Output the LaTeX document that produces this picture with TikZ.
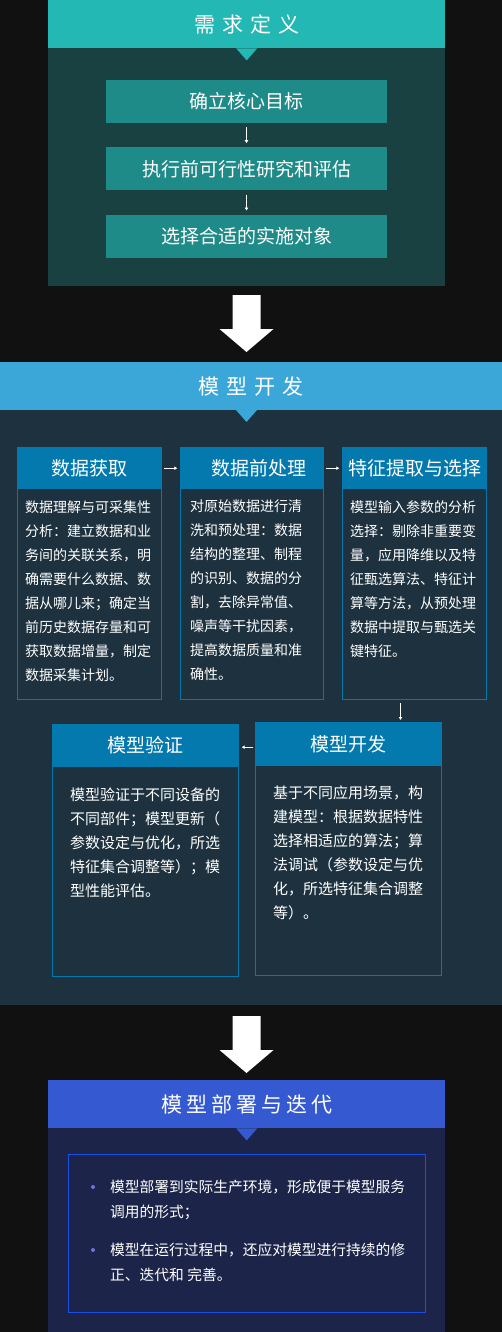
\documentclass[tikz,border=0pt]{standalone}
\usepackage{fontspec}
\usepackage{xcolor}
\usepackage{tikz}
\usetikzlibrary{positioning, calc, arrows.meta}
\newfontfamily\cjk{Noto Sans CJK SC}
\definecolor{PageBlack}{RGB}{17,17,17}
\definecolor{ReqTeal}{RGB}{36,184,181}
\definecolor{ReqDark}{RGB}{26,65,66}
\definecolor{ReqStep}{RGB}{31,139,136}
\definecolor{DevBlue}{RGB}{59,167,217}
\definecolor{DevDark}{RGB}{29,49,62}
\definecolor{CardBlue}{RGB}{4,121,173}
\definecolor{DepBlue}{RGB}{52,89,209}
\definecolor{DepDark}{RGB}{28,37,73}
\definecolor{DepLine}{RGB}{28,79,230}
\definecolor{DotPurple}{RGB}{112,112,224}
\tikzset{
    panelhead/.style={
        fill=#1, text=white, font=\cjk\fontsize{21}{21}\selectfont,
        minimum height=48pt, inner sep=0pt, anchor=north west
    },
    stepbox/.style={
        fill=ReqStep, text=white, font=\cjk\fontsize{19}{19}\selectfont,
        minimum width=281pt, minimum height=43pt, inner sep=0pt
    },
    cardframe/.style={
        draw=CardBlue, line width=1pt, minimum height=252pt, inner sep=0pt, anchor=north west
    },
    cardhead/.style={
        fill=CardBlue, text=white, font=\cjk\fontsize{19}{19}\selectfont,
        minimum height=42pt, inner sep=0pt, anchor=north
    },
    cardtext/.style={
        text=white, align=left, inner sep=0pt, anchor=north west
    },
    bulletdot/.style={
        circle, fill=DotPurple, minimum size=4pt, inner sep=0pt
    },
    smallarrow/.style={
        -{Latex[length=3pt, width=4pt]}, white, line width=0.8pt
    }
}
\begin{document}
\begin{tikzpicture}[x=1pt, y=-1pt]
\fill[PageBlack] (0,0) rectangle (502,1332);
\useasboundingbox (0,0) rectangle (502,1332);

\fill[ReqDark] (48,0) rectangle (445,286);
\node[panelhead=ReqTeal, minimum width=397pt] (req) at (48,0) {需\hspace{7pt}求\hspace{7pt}定\hspace{7pt}义};
\fill[ReqTeal] ([xshift=-10.5pt]req.south) -- ([xshift=10.5pt]req.south) -- ([yshift=-12pt]req.south) -- cycle;
\node[stepbox] (goal) at (246.5,101.5) {确立核心目标};
\node[stepbox, below=24pt of goal] (study) {执行前可行性研究和评估};
\node[stepbox, below=24pt of study] (target) {选择合适的实施对象};
\draw[smallarrow, shorten <=4pt, shorten >=4pt] (goal) -- (study);
\draw[smallarrow, shorten <=4pt, shorten >=4pt] (study) -- (target);

\fill[white] (232.5,295) -- (260.5,295) -- (260.5,329) -- (273.5,329) -- (246.5,352) -- (219.5,329) -- (232.5,329) -- cycle;

\fill[DevDark] (0,362) rectangle (502,1005);
\node[panelhead=DevBlue, minimum width=502pt] (dev) at (0,362) {模\hspace{7pt}型\hspace{7pt}开\hspace{7pt}发};
\fill[DevBlue] (236,410) -- (257,410) -- (246.5,422) -- cycle;

\node[cardframe, minimum width=144pt] (acq) at (17,447) {};
\node[cardhead, minimum width=144pt] (acqh) at (acq.north) {数据获取};
\node[cardtext, font=\cjk\fontsize{14}{24}\selectfont] (acqt) at ($(acq.north west)+(8,53)$)
    {数据理解与可采集性\\分析：建立数据和业\\务间的关联关系，明\\确需要什么数据、数\\据从哪儿来；确定当\\前历史数据存量和可\\获取数据增量，制定\\数据采集计划。};

\node[cardframe, minimum width=143pt] (pre) at (180,447) {};
\node[cardhead, minimum width=143pt] (preh) at (pre.north) {\hspace{14pt}数据前处理};
\node[cardtext, font=\cjk\fontsize{14}{24}\selectfont] (pret) at ($(pre.north west)+(10,53)$)
    {对原始数据进行清\\洗和预处理：数据\\结构的整理、制程\\的识别、数据的分\\割，去除异常值、\\噪声等干扰因素，\\提高数据质量和准\\确性。};

\node[cardframe, minimum width=144pt] (feat) at (342,447) {};
\node[cardhead, minimum width=144pt] (feath) at (feat.north) {特征提取与选择};
\node[cardtext, font=\cjk\fontsize{14}{24}\selectfont] (featt) at ($(feat.north west)+(8,53)$)
    {模型输入参数的分析\\选择：剔除非重要变\\量，应用降维以及特\\征甄选算法、特征计\\算等方法，从预处理\\数据中提取与甄选关\\键特征。};

\node[cardframe, minimum width=186pt, minimum height=253pt] (mdev) at (255,722) {};
\node[cardhead, minimum width=186pt, minimum height=44pt] (mdevh) at (mdev.north) {模型开发};
\node[cardtext, font=\cjk\fontsize{15}{24}\selectfont] (mdevt) at ($(mdev.north west)+(18,64)$)
    {基于不同应用场景，构\\建模型：根据数据特性\\选择相适应的算法；算\\法调试（参数设定与优\\化，所选特征集合调整\\等）。};

\node[cardframe, minimum width=186pt] (mval) at (52,724) {};
\node[cardhead, minimum width=186pt, minimum height=43pt] (mvalh) at (mval.north) {模型验证};
\node[cardtext, font=\cjk\fontsize{15}{24}\selectfont] (mvalt) at ($(mval.north west)+(18,64)$)
    {模型验证于不同设备的\\不同部件；模型更新（\\参数设定与优化，所选\\特征集合调整等）；模\\型性能评估。};

\draw[smallarrow, shorten <=2pt, shorten >=3pt] (acqh.east) -- (preh.west);
\draw[smallarrow, shorten <=2pt, shorten >=3pt] (preh.east) -- (feath.west);
\draw[smallarrow, shorten <=3pt, shorten >=2pt] ([xshift=-14pt]feat.south) -- ([xshift=-14pt]feat.south |- mdev.north);
\draw[smallarrow, shorten <=2pt, shorten >=3pt] ([yshift=-3pt]mdevh.west) -- ([yshift=-3pt]mdevh.west -| mvalh.east);

\fill[white] (232.5,1016) -- (260.5,1016) -- (260.5,1050) -- (273.5,1050) -- (246.5,1073) -- (219.5,1050) -- (232.5,1050) -- cycle;

\fill[DepDark] (48,1080) rectangle (445,1332);
\node[panelhead=DepBlue, minimum width=397pt] (dep) at (48,1080) {模\hspace{4pt}型\hspace{4pt}部\hspace{4pt}署\hspace{4pt}与\hspace{4pt}迭\hspace{4pt}代};
\fill[DepBlue] ([xshift=-10.5pt]dep.south) -- ([xshift=10.5pt]dep.south) -- ([yshift=-12pt]dep.south) -- cycle;
\node[draw=DepLine, line width=1pt, minimum width=357pt, minimum height=158pt, inner sep=0pt, anchor=north west] (deplist) at (68,1154) {};
\node[bulletdot] (dot1) at (93,1187) {};
\node[cardtext, font=\cjk\fontsize{14.75}{25}\selectfont] (dept1) at (110,1179.5)
    {模型部署到实际生产环境，形成便于模型服务\\调用的形式；};
\node[bulletdot] (dot2) at (93,1250) {};
\node[cardtext, font=\cjk\fontsize{14.75}{25}\selectfont] (dept2) at (110,1242.5)
    {模型在运行过程中，还应对模型进行持续的修\\正、迭代和 完善。};
\end{tikzpicture}
\end{document}
